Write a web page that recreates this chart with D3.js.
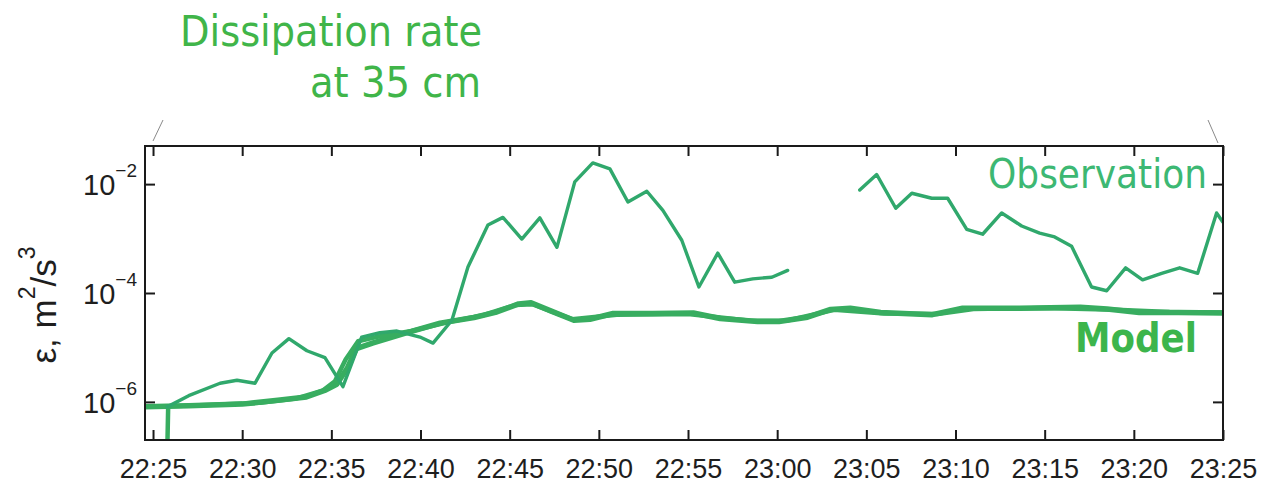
<!DOCTYPE html>
<html>
<head>
<meta charset="utf-8">
<script src="https://cdn.jsdelivr.net/npm/d3@7"></script>
<style>
  html, body { margin: 0; padding: 0; background: #fff; }
  svg { display: block; }
  .tick text { font-family: "Liberation Sans", Arial, sans-serif; fill: #1e1e1e; }
  .label { font-family: "DejaVu Sans", Verdana, sans-serif; }
</style>
</head>
<body>
<svg id="chart" width="1272" height="486"></svg>
<script>
// Time axis: minutes after 22:25
const startClock = "22:25";
const axisStartMinutes = -0.45;
const axisEndMinutes = 60;

// Observed dissipation rate (m^2/s^3); null marks a gap in the record
const obsMinutes = [0.8, 2.0, 3.76, 4.71, 5.72, 6.67, 7.62, 8.63, 9.64, 10.65,
  11.7, 12.72, 13.68, 14.97, 15.7, 16.76, 17.66, 18.78, 19.62, 20.68,
  21.69, 22.65, 23.65, 24.66, 25.62, 26.63, 27.69, 28.59, 29.65, 30.61,
  31.67, 32.62, 33.63, 34.7, 35.59, 37.5,
  39.63, 40.58, 41.65, 42.55, 43.67, 44.56, 45.63, 46.52, 47.59, 48.71,
  49.72, 50.56, 51.51, 52.63, 53.48, 54.54, 55.49, 56.56, 57.57, 58.58,
  59.64, 60.0];
const obsValues = [8.1e-7, 1.3e-6, 2.2e-6, 2.5e-6, 2.2e-6, 7.9e-6, 1.45e-5, 8.7e-6, 6.5e-6, 1.9e-6,
  1.55e-5, 1.86e-5, 2.0e-5, 1.55e-5, 1.2e-5, 3.16e-5, 3.0e-4, 1.78e-3, 2.45e-3, 9.8e-4,
  2.4e-3, 6.9e-4, 1.1e-2, 2.45e-2, 1.9e-2, 4.7e-3, 7.4e-3, 3.3e-3, 9.3e-4, 1.29e-4,
  5.4e-4, 1.58e-4, 1.82e-4, 1.95e-4, 2.6e-4, null,
  7.8e-3, 1.5e-2, 3.6e-3, 6.8e-3, 5.5e-3, 5.5e-3, 1.48e-3, 1.2e-3, 2.95e-3, 1.7e-3,
  1.26e-3, 1.07e-3, 7.2e-4, 1.29e-4, 1.1e-4, 2.9e-4, 1.74e-4, 2.3e-4, 2.9e-4, 2.3e-4,
  2.95e-3, 2.0e-3];

// Modelled dissipation rate, run A
const modelAMinutes = [-0.45, 2.0, 5.0, 7.0, 8.6, 9.7, 10.3, 10.9, 11.4, 12.3,
  14.2, 16.1, 18.0, 19.2, 20.5, 21.2, 22.3, 23.6, 24.5, 25.8,
  28.0, 30.3, 31.8, 33.9, 35.1, 36.7, 38.0, 39.1, 40.8, 43.7,
  45.4, 48.6, 52.0, 53.5, 55.3, 57.5, 60.0];
const modelAValues = [8.1e-7, 8.5e-7, 9.1e-7, 1.07e-6, 1.23e-6, 1.66e-6, 2.1e-6, 4.2e-6, 9.5e-6, 1.2e-5,
  1.86e-5, 2.8e-5, 3.55e-5, 4.4e-5, 6.3e-5, 6.6e-5, 4.7e-5, 3.16e-5, 3.3e-5, 4.2e-5,
  4.2e-5, 4.3e-5, 3.4e-5, 3.0e-5, 3.0e-5, 3.6e-5, 5.0e-5, 5.25e-5, 4.4e-5, 4.0e-5,
  5.25e-5, 5.25e-5, 5.5e-5, 5.1e-5, 4.4e-5, 4.4e-5, 4.3e-5];

// Modelled dissipation rate, run B (starts from rest)
const modelBMinutes = [0.75, 0.85, 3.0, 6.0, 8.0, 9.5, 10.2, 10.8, 11.5, 12.5,
  14.5, 16.5, 18.5, 20.3, 21.3, 23.5, 26.0, 30.0, 33.5, 35.5,
  38.2, 41.0, 44.0, 46.0, 50.0, 54.0, 57.0, 60.0];
const modelBValues = [2.0e-8, 8.3e-7, 8.8e-7, 9.6e-7, 1.15e-6, 1.6e-6, 2.4e-6, 6.0e-6, 1.3e-5, 1.55e-5,
  2.0e-5, 2.9e-5, 3.9e-5, 6.0e-5, 6.2e-5, 3.3e-5, 4.0e-5, 4.1e-5, 3.1e-5, 3.1e-5,
  4.9e-5, 4.2e-5, 4.1e-5, 5.1e-5, 5.3e-5, 4.9e-5, 4.5e-5, 4.4e-5];

// Axis ticks
const yTickValues = [1e-2, 1e-4, 1e-6];
const yTickExponents = ["\u22122", "\u22124", "\u22126"];
const xTickStepMinutes = 5;

// Text
const titleLines = ["Dissipation rate", "at 35 cm"];
const obsLabel = "Observation";
const modelLabel = "Model";

// ---------------------------------------------------------------
const W = 1272, H = 486;
const plot = { left: 145, right: 1223, top: 146, bottom: 440 };

const base = d3.timeParse("%H:%M")(startClock);
const toTime = m => new Date(base.getTime() + m * 60000);

const x = d3.scaleTime()
  .domain([toTime(axisStartMinutes), toTime(axisEndMinutes)])
  .range([plot.left, plot.right]);

const y = d3.scaleLog()
  .domain([Math.pow(10, -6.70), Math.pow(10, -1.30)])
  .range([plot.bottom, plot.top]);

const svg = d3.select("#chart");
svg.append("rect").attr("width", W).attr("height", H).attr("fill", "#fff");

svg.append("defs").append("clipPath").attr("id", "plotClip")
  .append("rect")
  .attr("x", plot.left).attr("y", plot.top)
  .attr("width", plot.right - plot.left).attr("height", plot.bottom - plot.top);

// Thin grey leader lines above the frame corners
svg.append("line").attr("x1", 163).attr("y1", 120).attr("x2", 153).attr("y2", 141)
  .attr("stroke", "#8a8a8a").attr("stroke-width", 1);
svg.append("line").attr("x1", 1208).attr("y1", 120).attr("x2", 1218).attr("y2", 143)
  .attr("stroke", "#8a8a8a").attr("stroke-width", 1);

// Axes with inward ticks on all four sides
const xTicks = d3.timeMinute.every(xTickStepMinutes);
const fmt = d3.timeFormat("%H:%M");

const gx = svg.append("g").attr("transform", `translate(0,${plot.bottom})`)
  .call(d3.axisBottom(x).ticks(xTicks).tickFormat(fmt).tickSize(-10).tickPadding(19));
gx.selectAll("text").attr("font-size", 27);

const gxTop = svg.append("g").attr("transform", `translate(0,${plot.top})`)
  .call(d3.axisTop(x).ticks(xTicks).tickFormat("").tickSize(-10));

const gy = svg.append("g").attr("transform", `translate(${plot.left},0)`)
  .call(d3.axisLeft(y).tickValues(yTickValues).tickFormat("").tickSize(-10));

const gyR = svg.append("g").attr("transform", `translate(${plot.right},0)`)
  .call(d3.axisRight(y).tickValues(yTickValues).tickFormat("").tickSize(-10));

[gx, gxTop, gy, gyR].forEach(g => {
  g.select(".domain").remove();
  g.selectAll(".tick line").attr("stroke", "#1a1a1a").attr("stroke-width", 2);
});

// Power-of-ten tick labels
yTickValues.forEach((v, i) => {
  const t = svg.append("text")
    .attr("x", 137).attr("y", y(v) + 11)
    .attr("text-anchor", "end")
    .attr("font-family", "Liberation Sans, Arial, sans-serif")
    .attr("font-size", 29).attr("fill", "#1e1e1e");
  t.append("tspan").text("10");
  t.append("tspan").attr("dy", -18).attr("font-size", 19).text(yTickExponents[i]);
});

// Y axis title
const yl = svg.append("text")
  .attr("transform", "translate(56,305) rotate(-90)")
  .attr("text-anchor", "middle")
  .attr("font-family", "Liberation Sans, Arial, sans-serif")
  .attr("font-size", 35).attr("fill", "#1e1e1e");
yl.append("tspan").text("\u03b5, m");
yl.append("tspan").attr("dy", -21).attr("font-size", 23).text("2");
yl.append("tspan").attr("dy", 21).text("/s");
yl.append("tspan").attr("dy", -21).attr("font-size", 23).text("3");

// Lines
const lineGen = d3.line()
  .defined(d => d.v != null)
  .x(d => x(toTime(d.m)))
  .y(d => y(d.v));

const zipSeries = (ms, vs) => ms.map((m, i) => ({ m, v: vs[i] }));

const lines = svg.append("g").attr("clip-path", "url(#plotClip)");
lines.append("path").datum(zipSeries(modelAMinutes, modelAValues))
  .attr("d", lineGen).attr("fill", "none")
  .attr("stroke", "#38ad60").attr("stroke-width", 5.5)
  .attr("stroke-linejoin", "round").attr("stroke-linecap", "round");
lines.append("path").datum(zipSeries(modelBMinutes, modelBValues))
  .attr("d", lineGen).attr("fill", "none")
  .attr("stroke", "#38ad60").attr("stroke-width", 4.5)
  .attr("stroke-linejoin", "round");
lines.append("path").datum(zipSeries(obsMinutes, obsValues))
  .attr("d", lineGen).attr("fill", "none")
  .attr("stroke", "#30a86c").attr("stroke-width", 3.4)
  .attr("stroke-linejoin", "round").attr("stroke-linecap", "round");

// Frame
svg.append("rect")
  .attr("x", plot.left).attr("y", plot.top)
  .attr("width", plot.right - plot.left).attr("height", plot.bottom - plot.top)
  .attr("fill", "none").attr("stroke", "#1a1a1a").attr("stroke-width", 2);

// Title
svg.append("text").attr("class", "label")
  .attr("x", 482).attr("y", 46).attr("text-anchor", "end")
  .attr("font-size", 43).attr("fill", "#40b549")
  .attr("textLength", 302).attr("lengthAdjust", "spacingAndGlyphs")
  .text(titleLines[0]);
svg.append("text").attr("class", "label")
  .attr("x", 481).attr("y", 97).attr("text-anchor", "end")
  .attr("font-size", 43).attr("fill", "#40b549")
  .attr("textLength", 171).attr("lengthAdjust", "spacingAndGlyphs")
  .text(titleLines[1]);

// Series labels
svg.append("text").attr("class", "label")
  .attr("x", 1207).attr("y", 188).attr("text-anchor", "end")
  .attr("font-size", 41).attr("fill", "#3db873")
  .attr("textLength", 219).attr("lengthAdjust", "spacingAndGlyphs")
  .text(obsLabel);
svg.append("text").attr("class", "label")
  .attr("x", 1197).attr("y", 352).attr("text-anchor", "end")
  .attr("font-size", 41).attr("font-weight", "bold").attr("fill", "#3cb54c")
  .attr("textLength", 122).attr("lengthAdjust", "spacingAndGlyphs")
  .text(modelLabel);
</script>
</body>
</html>
